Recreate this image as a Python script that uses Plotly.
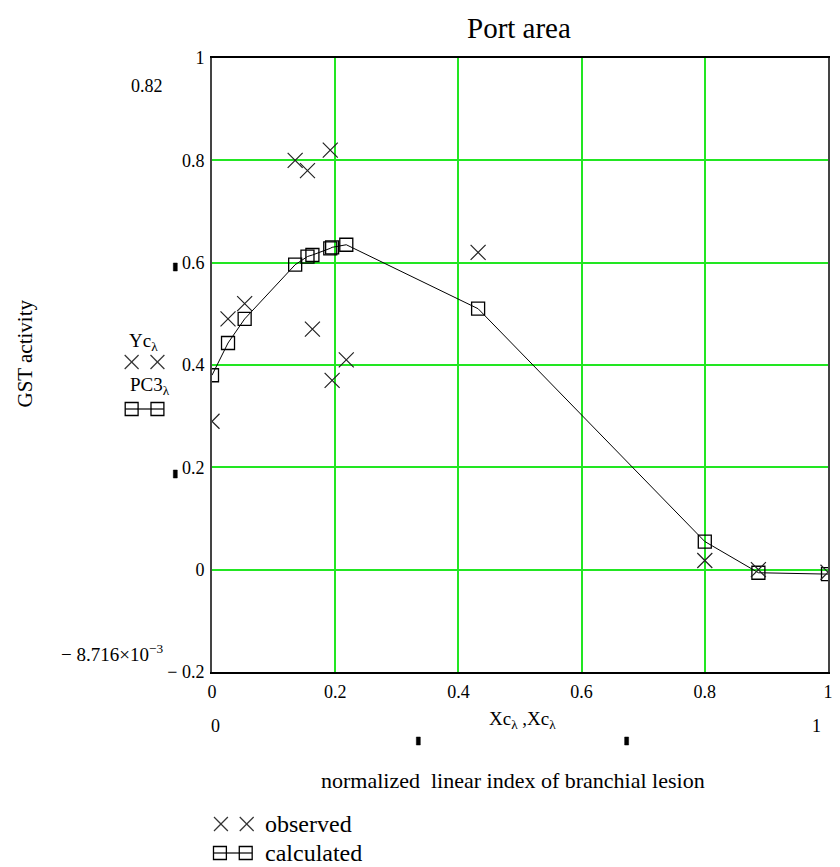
import plotly.graph_objects as go

# ---- data ----
x_vals = [0.0, 0.026, 0.053, 0.135, 0.155, 0.163, 0.192, 0.195, 0.218, 0.432, 0.8, 0.887, 1.0]
observed = [0.29, 0.49, 0.52, 0.80, 0.78, 0.47, 0.82, 0.37, 0.41, 0.62, 0.018, 0.0, -0.005]
calculated = [0.38, 0.443, 0.49, 0.596, 0.612, 0.615, 0.628, 0.63, 0.635, 0.51, 0.055, -0.006, -0.0087]

x_ticks = [0, 0.2, 0.4, 0.6, 0.8, 1]
x_ticktext = ["0", "0.2", "0.4", "0.6", "0.8", "1"]
y_ticks = [-0.2, 0, 0.2, 0.4, 0.6, 0.8, 1]
y_ticktext = ["\u2212 0.2", "0", "0.2", "0.4", "0.6", "0.8", "1"]

FONT = "Liberation Serif"
GREEN = "#22e622"

L, R, T, B = 212, 833, 58, 672
W, H = 840, 867


def px(x):
    return (x - L) / (R - L)


def py(y):
    return (B - y) / (B - T)


fig = go.Figure()
fig.add_trace(go.Scatter(
    x=x_vals, y=calculated, mode="lines+markers", name="calculated",
    line=dict(color="black", width=1),
    marker=dict(symbol="square-open", size=13, color="black", line=dict(width=1.3)),
    showlegend=False, cliponaxis=True,
))
fig.add_trace(go.Scatter(
    x=x_vals, y=observed, mode="markers", name="observed",
    marker=dict(symbol="x-thin-open", size=15, color="#222", line=dict(width=1.2, color="#222")),
    showlegend=False, cliponaxis=True,
))

annotations = []


def ann(x, y, text, size=18, angle=0, xanchor="center"):
    annotations.append(dict(x=px(x), y=py(y), xref="paper", yref="paper", text=text,
                            showarrow=False, textangle=angle, xanchor=xanchor, yanchor="middle",
                            font=dict(family=FONT, size=size, color="black")))


ann(521, 28, "Port area", size=29)
ann(23, 354, "GST activity", size=21, angle=-90)
ann(146, 86, "0.82", size=18)
ann(111, 653, "\u2212 8.716\u00d710<sup>\u22123</sup>", size=19)
ann(143, 342, "Yc<sub>\u03bb</sub>", size=19)
ann(150, 386, "PC3<sub>\u03bb</sub>", size=19)
ann(525, 720, "Xc<sub>\u03bb</sub> ,Xc<sub>\u03bb</sub>", size=19)
ann(216, 726, "0", size=18)
ann(821, 726, "1", size=18)
ann(515, 780, "normalized&nbsp;&nbsp;linear index of branchial lesion", size=22)
ann(263, 824, "observed", size=24, xanchor="left")
ann(263, 853, "calculated", size=24, xanchor="left")

shapes = []


def pline(x0, y0, x1, y1, w=1.2, color="#333"):
    shapes.append(dict(type="line", xref="paper", yref="paper", x0=px(x0), y0=py(y0),
                       x1=px(x1), y1=py(y1), line=dict(color=color, width=w)))


def prect(x0, y0, x1, y1, fill=None, w=1.3):
    shapes.append(dict(type="rect", xref="paper", yref="paper", x0=px(x0), y0=py(y0),
                       x1=px(x1), y1=py(y1), line=dict(color="black", width=w),
                       fillcolor=fill if fill else "rgba(0,0,0,0)"))


def xmark(cx, cy, s=7):
    pline(cx - s, cy - s, cx + s, cy + s)
    pline(cx - s, cy + s, cx + s, cy - s)


def sqmark(cx, cy, s=6.5):
    prect(cx - s, cy - s, cx + s, cy + s)
    pline(cx - s, cy, cx + s, cy, color="black")


# legend-like symbols at left of axis
xmark(131, 362)
xmark(157, 362)
sqmark(131, 409)
sqmark(157, 409)
pline(137, 409, 151, 409, color="black")
# bottom legend
xmark(221, 824)
xmark(247, 824)
sqmark(220, 853)
sqmark(246, 853)
pline(226, 853, 240, 853, color="black")

# small placeholder marks
for (cx, cy) in [(175, 268), (175, 475), (420, 742), (630, 742)]:
    prect(cx - 2, cy - 5, cx + 2, cy + 3, fill="black", w=0.5)

fig.update_layout(
    width=W, height=H,
    margin=dict(l=L, r=W - R, t=T, b=H - B),
    paper_bgcolor="white", plot_bgcolor="white",
    annotations=annotations, shapes=shapes,
    font=dict(family=FONT, size=18, color="black"),
)
fig.update_xaxes(
    range=[0, 1], tickmode="array", tickvals=x_ticks, ticktext=x_ticktext,
    showgrid=True, gridcolor=GREEN, gridwidth=1.5, zeroline=False,
    showline=True, linecolor="black", linewidth=2, mirror=True,
    ticks="", ticklabelstandoff=2,
    tickfont=dict(family=FONT, size=18, color="black"),
)
fig.update_yaxes(
    range=[-0.2, 1], tickmode="array", tickvals=y_ticks, ticktext=y_ticktext,
    showgrid=True, gridcolor=GREEN, gridwidth=1.5, zeroline=False,
    showline=True, linecolor="#444", linewidth=2, mirror=True,
    ticks="", ticklabelstandoff=2,
    tickfont=dict(family=FONT, size=18, color="black"),
)

fig.write_html("out.html")
